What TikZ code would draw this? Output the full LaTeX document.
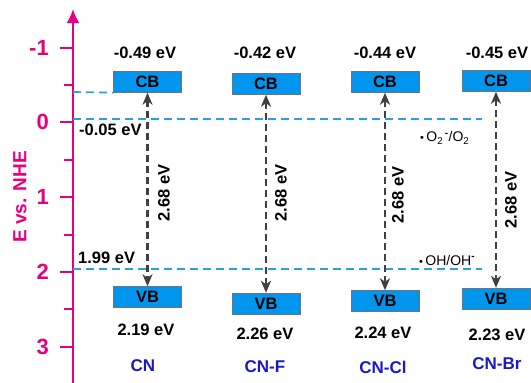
\documentclass[tikz,border=0pt]{standalone}
\usepackage{fontspec}
\setmainfont{Liberation Sans}
\usetikzlibrary{arrows.meta}
\definecolor{axispink}{RGB}{228,0,127}
\definecolor{levelblue}{RGB}{40,160,230}
\definecolor{bandblue}{RGB}{0,150,240}
\definecolor{arrowgray}{RGB}{64,64,64}
\definecolor{nameblue}{RGB}{25,25,200}
\newcommand{\raddot}{{\fontsize{11}{11}\selectfont\textbullet}}
\tikzset{
  band/.style={draw=black!55, line width=0.4pt, fill=bandblue, minimum width=68pt, minimum height=21pt, inner sep=0pt, font=\fontsize{16.5}{16.5}\selectfont\bfseries},
  level/.style={levelblue, line width=1.7pt, dash pattern=on 8pt off 5pt},
  gap/.style={arrowgray, line width=2.6pt, dash pattern=on 7pt off 4pt, {Stealth[length=12pt,width=10pt,inset=3.5pt]}-{Stealth[length=12pt,width=10pt,inset=3.5pt]}},
  val/.style={inner sep=0pt, font=\fontsize{16.5}{16.5}\selectfont\bfseries},
  sample/.style={inner sep=0pt, text=nameblue, font=\fontsize{17}{17}\selectfont\bfseries},
  tick/.style={axispink, line width=2pt},
  ticklab/.style={anchor=east, inner sep=0pt, text=axispink, font=\fontsize{22}{22}\selectfont\bfseries},
  redox/.style={inner sep=0pt, font=\fontsize{14}{14}\selectfont}
}
\begin{document}
\begin{tikzpicture}[x=1pt, y=-1pt]
\useasboundingbox (0,0) rectangle (531,383);
% energy axis
\coordinate (axbot) at (73,383);
\coordinate (axtop) at (73,9);
\draw[axispink, line width=2.4pt, -{Latex[length=14pt,width=13pt]}] (axbot) -- (axtop);
\draw[tick] (60,48) -- (73,48);
\draw[tick] (64,85) -- (73,85);
\draw[tick] (60,122) -- (73,122);
\draw[tick] (64,160) -- (73,160);
\draw[tick] (60,197) -- (73,197);
\draw[tick] (64,235) -- (73,235);
\draw[tick] (60,272) -- (73,272);
\draw[tick] (64,309) -- (73,309);
\draw[tick] (60,347) -- (73,347);
\node[ticklab] (tm1) at (49,48) {-1};
\node[ticklab] (t0) at (49,122) {0};
\node[ticklab] (t1) at (49,197) {1};
\node[ticklab] (t2) at (49,272) {2};
\node[ticklab] (t3) at (49,347) {3};
\node[rotate=90, inner sep=0pt, text=axispink, font=\fontsize{19}{19}\selectfont\bfseries] (ename) at (20,197) {E vs. NHE};
% bands
\node[band] (cn-cb) at (147.5,82) {CB};
\node[band] (cnf-cb) at (266,84) {CB};
\node[band] (cncl-cb) at (385,82) {CB};
\node[band] (cnbr-cb) at (496,81) {CB};
\node[band] (cn-vb) at (147.5,297) {VB};
\node[band] (cnf-vb) at (266,303.5) {VB};
\node[band] (cncl-vb) at (385,301) {VB};
\node[band] (cnbr-vb) at (496,298.5) {VB};
% reference levels
\coordinate (lcb-a) at (73,92);
\coordinate (l0-a) at (73,119);
\coordinate (l0-b) at (482,119);
\coordinate (l2-a) at (73,269);
\coordinate (l2-b) at (482,269);
\draw[level] (lcb-a) -- (cn-cb.south west);
\draw[level] (l0-a) -- (l0-b);
\draw[level] (l2-a) -- (l2-b);
\node[val, anchor=west] (e005) at (79,130) {-0.05 eV};
\node[val, anchor=west] (e199) at (78,258) {1.99 eV};
\node[redox, anchor=west] (o2) at (420,138) {\raddot\,O\textsubscript{2}\textsuperscript{\,\textbf{-}}/O\textsubscript{2}};
\node[redox, anchor=west] (oh) at (419,260) {\raddot\,OH/OH\textsuperscript{\textbf{-}}};
% band gaps
\draw[gap] (cn-cb.south) -- (cn-vb.north);
\draw[gap] (cnf-cb.south) -- (cnf-vb.north);
\draw[gap] (cncl-cb.south) -- (cncl-vb.north);
\draw[gap] (cnbr-cb.south) -- (cnbr-vb.north);
\node[val, rotate=90] (g-cn) at (164,193) {2.68 eV};
\node[val, rotate=90] (g-cnf) at (281,193) {2.68 eV};
\node[val, rotate=90] (g-cncl) at (398,195) {2.68 eV};
\node[val, rotate=90] (g-cnbr) at (511,200) {2.68 eV};
% band edge values
\node[val] (cb-cn) at (145,53) {-0.49 eV};
\node[val] (cb-cnf) at (265,53) {-0.42 eV};
\node[val] (cb-cncl) at (385,53) {-0.44 eV};
\node[val] (cb-cnbr) at (497,53) {-0.45 eV};
\node[val] (vb-cn) at (146,330) {2.19 eV};
\node[val] (vb-cnf) at (265,334) {2.26 eV};
\node[val] (vb-cncl) at (383,333) {2.24 eV};
\node[val] (vb-cnbr) at (497,335) {2.23 eV};
% samples
\node[sample] (n-cn) at (143,366) {CN};
\node[sample] (n-cnf) at (265,367) {CN-F};
\node[sample] (n-cncl) at (383,367) {CN-Cl};
\node[sample] (n-cnbr) at (497,364) {CN-Br};
\end{tikzpicture}
\end{document}
